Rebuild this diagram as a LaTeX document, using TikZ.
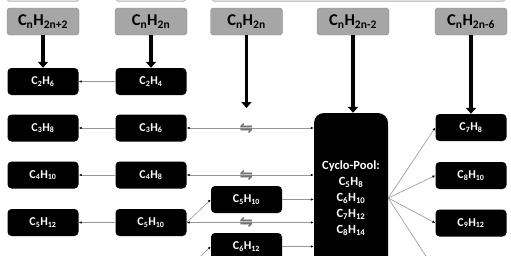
\documentclass[tikz,border=0pt]{standalone}
\usepackage{fontspec}
\setmainfont{Carlito}
\newfontfamily\eqfont{DejaVu Sans}
\usepackage{tikz}
\usetikzlibrary{arrows.meta, positioning}
\definecolor{headgray}{RGB}{166, 166, 166}
\definecolor{edgegray}{RGB}{140, 140, 140}
\definecolor{linegray}{RGB}{150, 150, 150}
\definecolor{eqgray}{RGB}{115, 115, 115}

\begin{document}
\begin{tikzpicture}[x=1pt, y=-1pt,
    head/.style={draw=edgegray, fill=headgray, rounded corners=3pt,
                 minimum width=72pt, minimum height=27pt, inner sep=0pt,
                 font=\bfseries\fontsize{16.5}{19}\selectfont},
    mol/.style={fill=black, text=white, rounded corners=4pt,
                minimum width=71pt, minimum height=27pt, inner sep=0pt,
                font=\bfseries\fontsize{12}{14}\selectfont},
    feed/.style={line width=3.5pt, -{Triangle[width=10pt, length=6pt]}},
    link/.style={draw=linegray, line width=0.6pt,
                 >={Latex[length=3pt, width=2.5pt, color=black]}, ->},
    both/.style={link, <->},
    eq/.style={text=eqgray, font=\eqfont\bfseries\fontsize{16}{16}\selectfont,
               inner sep=0pt}
]
    \useasboundingbox (0,0) rectangle (511,255);
    \clip (0,0) rectangle (511,255);
    \fill[white] (0,0) rectangle (511,255);

    % Boxes above the frame
    \draw[draw=edgegray, fill=headgray!35, rounded corners=3pt] (7,-20) rectangle (79,1.5);
    \draw[draw=edgegray, fill=headgray!35, rounded corners=3pt] (116,-20) rectangle (186,1.5);
    \draw[draw=edgegray, fill=headgray!35, rounded corners=3pt] (212,-20) rectangle (505,1.5);

    % Series heads
    \node[head] (alkane) at (43,21.5) {C\textsubscript{n}H\textsubscript{2n+2}};
    \node[head] (alkene) at (151,21.5) {C\textsubscript{n}H\textsubscript{2n}};
    \node[head] (cyclane) at (246.5,21.5) {C\textsubscript{n}H\textsubscript{2n}};
    \node[head] (alkyne) at (353,21.5) {C\textsubscript{n}H\textsubscript{2n-2}};
    \node[head] (arene) at (471,21.5) {C\textsubscript{n}H\textsubscript{2n-6}};

    % Alkanes
    \node[mol] (ethane) at (43,81.5) {C\textsubscript{2}H\textsubscript{6}};
    \node[mol] (propane) at (43,128) {C\textsubscript{3}H\textsubscript{8}};
    \node[mol] (butane) at (43,175) {C\textsubscript{4}H\textsubscript{10}};
    \node[mol] (pentane) at (43,222.5) {C\textsubscript{5}H\textsubscript{12}};

    % Alkenes
    \node[mol] (ethene) at (151,81.5) {C\textsubscript{2}H\textsubscript{4}};
    \node[mol] (propene) at (151,128) {C\textsubscript{3}H\textsubscript{6}};
    \node[mol] (butene) at (151,175) {C\textsubscript{4}H\textsubscript{8}};
    \node[mol] (pentene) at (151,222.5) {C\textsubscript{5}H\textsubscript{10}};

    % Cycloalkanes
    \node[mol] (cpentane) at (246.5,199.5) {C\textsubscript{5}H\textsubscript{10}};
    \node[mol] (chexane) at (246.5,246.5) {C\textsubscript{6}H\textsubscript{12}};

    % Cyclo-Pool
    \node[mol, minimum width=74pt, minimum height=170pt, rounded corners=10pt,
          align=center, font=\bfseries\fontsize{12.5}{16}\selectfont] (pool) at (351,198)
        {Cyclo-Pool:\\C\textsubscript{5}H\textsubscript{8}\\C\textsubscript{6}H\textsubscript{10}\\
         C\textsubscript{7}H\textsubscript{12}\\C\textsubscript{8}H\textsubscript{14}};

    % Aromatics
    \node[mol] (toluene) at (471,127.5) {C\textsubscript{7}H\textsubscript{8}};
    \node[mol] (xylene) at (471,175.5) {C\textsubscript{8}H\textsubscript{10}};
    \node[mol] (mesitylene) at (471,223) {C\textsubscript{9}H\textsubscript{12}};

    \coordinate (eqtop) at (246.5,108);
    \coordinate (hexfeed) at (187,269);
    \coordinate (arfeed) at (435,270);

    % Feeds
    \draw[feed] (alkane.south) -- (ethane.north);
    \draw[feed] (alkene.south) -- (ethene.north);
    \draw[feed] (cyclane.south) -- (eqtop);
    \draw[feed] (alkyne.south) -- (alkyne.south |- pool.north);
    \draw[feed] (arene.south) -- (toluene.north);

    % Hydrogenation
    \draw[link] (ethene) -- (ethane);
    \draw[link] (propene) -- (propane);
    \draw[link] (butene) -- (butane);
    \draw[link] (pentene) -- (pentane);

    % Exchange with the pool
    \draw[both] (propene) -- node[eq, pos=0.47] (eqthree) {⇋} (propene -| pool.west);
    \draw[both] (butene) -- node[eq, pos=0.47] (eqfour) {⇋} (butene -| pool.west);
    \draw[both] (pentene) -- node[eq, pos=0.47] (eqfive) {⇋} (pentene -| pool.west);
    \draw[link] (pentene.east) -- (cpentane.west);
    \draw[link] (hexfeed) -- (chexane.west);
    \draw[link] (cpentane) -- (cpentane -| pool.west);
    \draw[link] (chexane) -- (chexane -| pool.west);

    % Aromatisation
    \draw[link] (pool.east) -- (toluene.west);
    \draw[link] (pool.east) -- (xylene.west);
    \draw[link] (pool.east) -- (mesitylene.west);
    \draw[link] (pool.east) -- (arfeed);
\end{tikzpicture}
\end{document}
